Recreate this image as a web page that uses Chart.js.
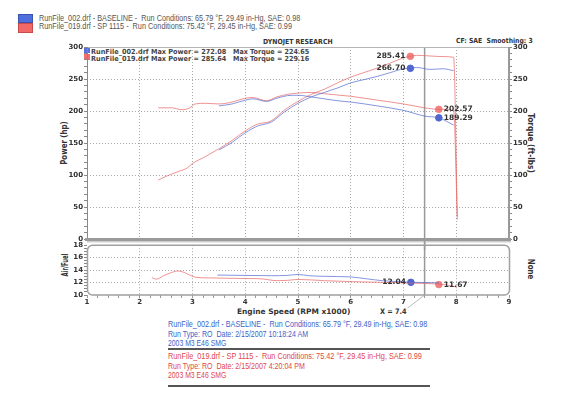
<!DOCTYPE html>
<html>
<head>
<meta charset="utf-8">
<script src="https://cdn.jsdelivr.net/npm/chart.js@4.4.0/dist/chart.umd.min.js"></script>
<style>
  body { margin: 0; background: #fff; width: 571px; height: 393px; overflow: hidden; position: relative;
         font-family: "Liberation Sans", Arial, sans-serif; }
  .t { position: absolute; white-space: nowrap; line-height: 1; transform-origin: left center; transform: translateY(-50%); }
  .r { position: absolute; white-space: nowrap; line-height: 1; transform-origin: center center; }
  .b { font-family: "DejaVu Sans", Verdana, sans-serif; font-weight: bold; font-size: 7px; color: #333; }
  .n { font-size: 8.5px; }
  canvas { position: absolute; left: 0; }
  .sq { position: absolute; }
</style>
</head>
<body>

<!-- top legend -->
<div class="sq" style="left:18px;top:14px;width:15px;height:9px;background:#4f6fdc;border:1px solid #3a55b0;box-sizing:border-box"></div>
<div class="sq" style="left:18px;top:23px;width:15px;height:10px;background:#f06868;border:1px solid #c84a4a;box-sizing:border-box"></div>
<div class="t n" style="left:39px;top:17.5px;color:#555" data-w="261">RunFile_002.drf - BASELINE -&nbsp; Run Conditions: 65.79 °F, 29.49 in-Hg, SAE: 0.98</div>
<div class="t n" style="left:39px;top:26px;color:#555" data-w="253">RunFile_019.drf - SP 1115 -&nbsp; Run Conditions: 75.42 °F, 29.45 in-Hg, SAE: 0.99</div>

<div class="t b" style="left:263px;top:42px" data-w="70">DYNOJET RESEARCH</div>
<div class="t b" style="left:456px;top:41px" data-w="77">CF: SAE&nbsp; Smoothing: 3</div>

<!-- in-plot legend -->
<div class="sq" style="left:84px;top:47px;width:6px;height:6px;background:#5a72d8"></div>
<div class="sq" style="left:84px;top:54px;width:6px;height:6px;background:#f07070"></div>
<div class="t b" style="left:91px;top:52px;color:#444" data-w="135">RunFile_002.drf Max Power = 272.08</div>
<div class="t b" style="left:91px;top:59px;color:#444" data-w="135">RunFile_019.drf Max Power = 285.64</div>
<div class="t b" style="left:233px;top:52px;color:#444" data-w="76">Max Torque = 224.65</div>
<div class="t b" style="left:233px;top:59px;color:#444" data-w="76">Max Torque = 229.16</div>

<!-- axis titles -->
<div class="r b" style="left:65px;top:143px;font-size:8px" data-w="44" data-rot="-90">Power (hp)</div>
<div class="r b" style="left:530px;top:143px;font-size:8px" data-w="60" data-rot="90">Torque (ft-lbs)</div>
<div class="r b" style="left:66px;top:265px;font-size:8px" data-w="23" data-rot="-90">Air/Fuel</div>
<div class="r b" style="left:530px;top:269px;font-size:8px" data-w="20" data-rot="90">None</div>
<div class="t b" style="left:237px;top:312px;font-size:7.5px" data-w="113">Engine Speed (RPM x1000)</div>
<div class="t b" style="left:380px;top:312px;font-size:7.5px" data-w="27">X = 7.4</div>

<!-- bottom notes -->
<div class="t n" style="left:168px;top:324px;color:#3e5fc8" data-w="259">RunFile_002.drf - BASELINE -&nbsp; Run Conditions: 65.79 °F, 29.49 in-Hg, SAE: 0.98</div>
<div class="t n" style="left:168px;top:333.5px;color:#3e5fc8" data-w="140">Run Type: RO&nbsp; Date: 2/15/2007 10:18:24 AM</div>
<div class="t n" style="left:168px;top:342.5px;color:#3e5fc8" data-w="58">2003 M3 E46 SMG</div>
<div class="sq" style="left:168px;top:348px;width:262px;height:1.5px;background:#555"></div>
<div class="t n" style="left:168px;top:356px;color:#e04848" data-w="254">RunFile_019.drf - SP 1115 -&nbsp; Run Conditions: 75.42 °F, 29.45 in-Hg, SAE: 0.99</div>
<div class="t n" style="left:168px;top:365.5px;color:#e04848" data-w="137">Run Type: RO&nbsp; Date: 2/15/2007 4:20:04 PM</div>
<div class="t n" style="left:168px;top:375px;color:#e04848" data-w="58">2003 M3 E46 SMG</div>
<div class="sq" style="left:168px;top:385px;width:262px;height:1.5px;background:#555"></div>

<canvas id="main" width="571" height="250" style="top:0;width:571px;height:250px"></canvas>
<canvas id="afr" width="571" height="80" style="top:240px;width:571px;height:80px"></canvas>

<script>
  // ---- data (rpm x1000) ----
  var rpmPowerRed = [2.35, 2.5, 2.75, 2.9, 3.0, 3.25, 3.5, 3.75, 4.0, 4.25, 4.4, 4.5, 4.75, 5.0, 5.25, 5.5, 5.75, 6.0, 6.25, 6.5, 6.75, 7.0, 7.13, 7.25, 7.5, 7.75, 7.95, 8.02];
  var hpRed       = [92, 98, 106, 111, 118, 129, 141, 154, 169, 180, 182, 185, 202, 215, 226, 234, 244, 253, 260, 267, 275, 283, 285.4, 287, 286, 285, 284, 35];

  var rpmPowerBlue = [3.5, 3.75, 4.0, 4.25, 4.4, 4.5, 4.75, 5.0, 5.25, 5.5, 5.75, 6.0, 6.25, 6.5, 6.75, 7.0, 7.13, 7.25, 7.5, 7.75, 7.95];
  var hpBlue       = [139, 151, 166, 177, 180, 183, 199, 212, 222, 229, 236, 244, 249, 254, 260, 266, 266.7, 268, 265, 266, 263];

  var rpmTorqueRed = [2.35, 2.6, 2.8, 2.95, 3.05, 3.25, 3.5, 3.75, 4.0, 4.15, 4.4, 4.6, 4.8, 5.0, 5.25, 5.5, 5.75, 6.0, 6.5, 7.0, 7.4, 7.67, 7.95, 8.02];
  var tqRed        = [205, 205, 202, 205, 211, 212, 211, 214, 220, 221, 216, 222, 226, 228, 229, 227, 225, 223, 217, 211, 205, 202.6, 201, 30];

  var rpmTorqueBlue = [3.5, 3.75, 4.0, 4.15, 4.4, 4.6, 4.8, 5.0, 5.25, 5.5, 5.75, 6.0, 6.5, 7.0, 7.4, 7.67, 7.95];
  var tqBlue        = [208, 211, 217, 219, 215, 220, 224, 224.6, 222, 219, 216, 214, 208, 201, 192, 189.3, 178];

  var rpmAfrRed = [2.23, 2.32, 2.45, 2.6, 2.72, 2.85, 3.0, 3.1, 3.3, 3.6, 4.0, 4.3, 4.6, 4.8, 5.0, 5.5, 6.0, 6.5, 7.0, 7.4, 7.67, 7.85, 8.0];
  var afrRed    = [12.8, 12.55, 13.1, 13.6, 13.85, 13.6, 13.0, 12.8, 12.75, 12.7, 12.65, 12.6, 12.3, 12.35, 12.5, 12.3, 12.15, 12.05, 11.95, 11.85, 11.75, 11.55, 11.3];

  var rpmAfrBlue = [3.47, 4.0, 4.5, 4.8, 5.0, 5.2, 5.5, 6.0, 6.3, 6.6, 6.9, 7.14, 7.4, 7.67];
  var afrBlue    = [13.2, 13.15, 13.1, 13.15, 13.3, 13.1, 13.0, 12.9, 12.6, 12.3, 12.15, 12.04, 12.0, 11.95];

  // cursor markers: [rpm, value]
  var mkPowerRed   = [7.13, 285.41];
  var mkPowerBlue  = [7.13, 266.70];
  var mkTorqueRed  = [7.67, 202.57];
  var mkTorqueBlue = [7.67, 189.29];
  var mkAfrBlue    = [7.14, 12.04];
  var mkAfrRed     = [7.67, 11.67];

  var cursorRpm = 7.4;

  var RED = 'rgba(232,100,100,0.7)';
  var BLUE = 'rgba(80,105,210,0.7)';
  var RED_MK = '#f28080';
  var BLUE_MK = '#5068d0';
  var TICK_FONT = { family: "'DejaVu Sans', Verdana, sans-serif", size: 7, weight: 'bold' };

  function pts(xs, ys) {
    return xs.map(function(x, i) { return { x: x, y: ys[i] }; });
  }

  function line(xs, ys, color, axis) {
    return {
      data: pts(xs, ys), borderColor: color, borderWidth: 1, pointRadius: 0,
      cubicInterpolationMode: 'monotone', yAxisID: axis, fill: false
    };
  }

  function marker(m, color, axis, side) {
    return {
      data: [{ x: m[0], y: m[1] }], showLine: false, pointRadius: 3.3,
      pointBackgroundColor: color, pointBorderColor: color, yAxisID: axis, mkSide: side
    };
  }

  function isInt(v) { return Math.abs(v - Math.round(v)) < 1e-6; }

  /** label text next to the cursor markers */
  var markerLabels = {
    id: 'markerLabels',
    afterDatasetsDraw: function(chart) {
      var ctx = chart.ctx;
      ctx.save();
      ctx.font = "bold 7.5px 'DejaVu Sans', Verdana, sans-serif";
      ctx.fillStyle = '#333';
      ctx.textBaseline = 'middle';
      chart.data.datasets.forEach(function(ds, i) {
        if (!ds.mkSide) return;
        var p = chart.getDatasetMeta(i).data[0];
        var txt = ds.data[0].y.toFixed(2);
        if (ds.mkSide === 'left') {
          ctx.textAlign = 'right';
          ctx.fillText(txt, p.x - 5, p.y);
        } else {
          ctx.textAlign = 'left';
          ctx.fillText(txt, p.x + 5, p.y);
        }
      });
      ctx.restore();
    }
  };

  /** frame + cursor for the power/torque panel */
  var mainFrame = {
    id: 'mainFrame',
    beforeDatasetsDraw: function(chart) {
      var ctx = chart.ctx, a = chart.chartArea;
      var xc = chart.scales.x.getPixelForValue(cursorRpm);
      ctx.save();
      ctx.strokeStyle = '#999';
      ctx.lineWidth = 1.5;
      ctx.beginPath();
      ctx.moveTo(xc, a.top);
      ctx.lineTo(xc, chart.height);
      ctx.stroke();
      ctx.restore();
    },
    afterDraw: function(chart) {
      var ctx = chart.ctx, a = chart.chartArea;
      ctx.save();
      ctx.strokeStyle = '#b5b5b5';
      ctx.lineWidth = 1;
      ctx.beginPath();
      ctx.moveTo(a.left, a.top + 0.5);
      ctx.lineTo(a.right, a.top + 0.5);
      ctx.stroke();
      ctx.strokeStyle = '#888';
      ctx.beginPath();
      ctx.moveTo(a.left + 0.5, a.top);
      ctx.lineTo(a.left + 0.5, a.bottom);
      ctx.stroke();
      ctx.strokeStyle = '#999';
      ctx.lineWidth = 2;
      ctx.beginPath();
      ctx.moveTo(a.right, a.top);
      ctx.lineTo(a.right, a.bottom);
      ctx.stroke();
      ctx.fillStyle = '#9a9a9a';
      ctx.fillRect(a.left - 2, a.bottom - 1, a.right - a.left + 4, 3);
      ctx.fillStyle = '#cfcfcf';
      ctx.fillRect(a.left, a.bottom + 2, a.right - a.left + 2, 1.5);
      ctx.restore();
    }
  };

  /** frame + cursor for the air/fuel panel */
  var afrFrame = {
    id: 'afrFrame',
    beforeDatasetsDraw: function(chart) {
      var ctx = chart.ctx, a = chart.chartArea;
      var xc = chart.scales.x.getPixelForValue(cursorRpm);
      ctx.save();
      ctx.strokeStyle = '#999';
      ctx.lineWidth = 1.5;
      ctx.beginPath();
      ctx.moveTo(xc, 0);
      ctx.lineTo(xc, a.bottom);
      ctx.stroke();
      ctx.lineWidth = 0.8;
      ctx.strokeStyle = '#aaa';
      ctx.beginPath();
      ctx.moveTo(xc, a.bottom);
      ctx.lineTo(xc - 17, a.bottom + 13);
      ctx.stroke();
      ctx.restore();
    },
    afterDraw: function(chart) {
      var ctx = chart.ctx, a = chart.chartArea;
      ctx.save();
      ctx.strokeStyle = '#a0a0a0';
      ctx.lineWidth = 1.5;
      ctx.beginPath();
      ctx.roundRect(a.left + 0.5, a.top, a.right - a.left, a.bottom - a.top, 5);
      ctx.stroke();
      ctx.restore();
    }
  };

  var dotted = { display: false, dash: [1, 2] };

  new Chart(document.getElementById('main'), {
    type: 'line',
    plugins: [mainFrame, markerLabels],
    data: {
      datasets: [
        line(rpmPowerBlue, hpBlue, BLUE, 'y'),
        line(rpmTorqueBlue, tqBlue, BLUE, 'y2'),
        line(rpmPowerRed, hpRed, RED, 'y'),
        line(rpmTorqueRed, tqRed, RED, 'y2'),
        marker(mkPowerRed, RED_MK, 'y', 'left'),
        marker(mkPowerBlue, BLUE_MK, 'y', 'left'),
        marker(mkTorqueRed, RED_MK, 'y2', 'right'),
        marker(mkTorqueBlue, BLUE_MK, 'y2', 'right')
      ]
    },
    options: {
      responsive: false, animation: false, events: [],
      layout: { padding: { top: 47, left: 0, right: 0, bottom: 0 } },
      plugins: { legend: { display: false }, tooltip: { enabled: false } },
      scales: {
        x: {
          type: 'linear', min: 1, max: 9,
          ticks: { display: false, stepSize: 1 },
          border: dotted,
          grid: {
            drawTicks: false,
            color: function(c) { return c.tick && c.tick.value > 1 && c.tick.value < 9 ? '#a8a8a8' : 'transparent'; }
          },
          afterFit: function(s) { s.height = 11; }
        },
        y: {
          position: 'left', min: 0, max: 300,
          border: dotted,
          ticks: {
            stepSize: 10, autoSkip: false, padding: 1, color: '#333', font: TICK_FONT,
            callback: function(v) { return v % 50 === 0 ? v : ''; }
          },
          grid: {
            tickLength: 3, tickColor: '#888',
            color: function(c) { return c.tick && c.tick.value % 50 === 0 && c.tick.value > 0 && c.tick.value < 300 ? '#a8a8a8' : 'transparent'; }
          },
          afterFit: function(s) { s.width = 87; }
        },
        y2: {
          position: 'right', min: 0, max: 300,
          border: { display: false },
          ticks: {
            stepSize: 10, autoSkip: false, padding: 1, color: '#333', font: TICK_FONT,
            callback: function(v) { return v % 50 === 0 ? v : ''; }
          },
          grid: { drawOnChartArea: false, tickLength: 3, tickColor: '#888' },
          afterFit: function(s) { s.width = 62; }
        }
      }
    }
  });

  new Chart(document.getElementById('afr'), {
    type: 'line',
    plugins: [afrFrame, markerLabels],
    data: {
      datasets: [
        line(rpmAfrBlue, afrBlue, BLUE, 'y'),
        line(rpmAfrRed, afrRed, RED, 'y'),
        marker(mkAfrBlue, BLUE_MK, 'y', 'left'),
        marker(mkAfrRed, RED_MK, 'y', 'right')
      ]
    },
    options: {
      responsive: false, animation: false, events: [],
      layout: { padding: { top: 5, left: 0, right: 62, bottom: 0 } },
      plugins: { legend: { display: false }, tooltip: { enabled: false } },
      scales: {
        x: {
          type: 'linear', min: 1, max: 9,
          border: dotted,
          ticks: {
            stepSize: 0.2, autoSkip: false, maxRotation: 0, padding: 0, color: '#333', font: TICK_FONT,
            callback: function(v) { return isInt(v) ? Math.round(v) : ''; }
          },
          grid: {
            tickLength: 3, tickColor: '#999',
            color: function(c) { return c.tick && isInt(c.tick.value) && c.tick.value > 1.5 && c.tick.value < 8.5 ? '#a8a8a8' : 'transparent'; }
          },
          afterFit: function(s) { s.height = 25; }
        },
        y: {
          min: 10, max: 18,
          border: dotted,
          ticks: {
            stepSize: 0.5, autoSkip: false, padding: 1, color: '#333', font: TICK_FONT,
            callback: function(v) { return isInt(v) && Math.round(v) % 2 === 0 ? Math.round(v) : ''; }
          },
          grid: {
            tickLength: 3, tickColor: '#888',
            color: function(c) { return c.tick && isInt(c.tick.value) && Math.round(c.tick.value) % 2 === 0 && c.tick.value > 10 && c.tick.value < 18 ? '#a8a8a8' : 'transparent'; }
          },
          afterFit: function(s) { s.width = 87; }
        }
      }
    }
  });

  // squeeze text to the widths measured on the reference
  Array.prototype.forEach.call(document.querySelectorAll('[data-w]'), function(el) {
    var s = parseFloat(el.getAttribute('data-w')) / el.offsetWidth;
    var rot = el.getAttribute('data-rot');
    if (rot) {
      el.style.transform = 'translate(-50%,-50%) rotate(' + rot + 'deg) scaleX(' + s + ')';
    } else {
      el.style.transform = 'translateY(-50%) scaleX(' + s + ')';
    }
  });
</script>
</body>
</html>
